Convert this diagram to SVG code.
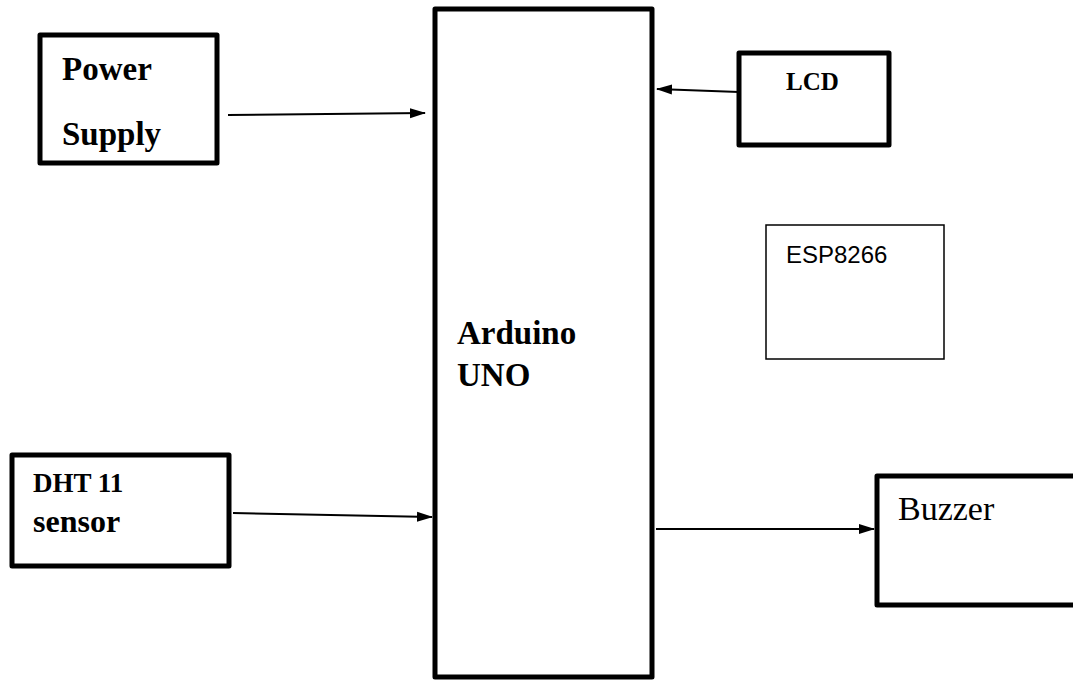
<svg xmlns="http://www.w3.org/2000/svg" width="1073" height="681" viewBox="0 0 1073 681">
<style>
.thick{fill:#fff;stroke:#000;stroke-width:5;stroke-linejoin:round}
.thin{fill:#fff;stroke:#000;stroke-width:1.5}
.b{font-family:"Liberation Serif",serif;font-weight:bold;fill:#000}
.r{font-family:"Liberation Serif",serif;fill:#000}
.s{font-family:"Liberation Sans",sans-serif;fill:#000}
.c{stroke:#000;stroke-width:2;fill:none;marker-end:url(#ah)}
</style>
<defs>
<marker id="ah" markerWidth="16" markerHeight="12" refX="15" refY="6" orient="auto" markerUnits="userSpaceOnUse">
<path d="M0,1 L16,6 L0,11 Z" fill="#000"/>
</marker>
</defs>
<rect width="1073" height="681" fill="#fff"/>
<g id="arduino">
<rect class="thick" x="435" y="9" width="217" height="668"/>
<text class="b" x="457" y="344" font-size="33">Arduino</text>
<text class="b" x="457" y="386" font-size="33">UNO</text>
</g>
<g id="power">
<rect class="thick" x="40" y="35" width="177" height="128"/>
<text class="b" x="62" y="80" font-size="33">Power</text>
<text class="b" x="62" y="145" font-size="33">Supply</text>
</g>
<g id="lcd">
<rect class="thick" x="739" y="53" width="150" height="92"/>
<text class="b" x="786" y="90" font-size="25">LCD</text>
</g>
<g id="esp">
<rect class="thin" x="766" y="225" width="178" height="134"/>
<text class="s" x="786" y="263" font-size="24">ESP8266</text>
</g>
<g id="dht">
<rect class="thick" x="12" y="455" width="217" height="111"/>
<text class="b" x="33" y="492" font-size="27">DHT 11</text>
<text class="b" x="33" y="532" font-size="32">sensor</text>
</g>
<g id="buzzer">
<path class="thick" d="M1080,476 L877,476 L877,605 L1080,605"/>
<text class="r" x="898" y="520" font-size="34">Buzzer</text>
</g>
<g id="connectors">
<line class="c" x1="228" y1="115" x2="425" y2="113"/>
<line class="c" x1="739" y1="92" x2="657" y2="89"/>
<line class="c" x1="233" y1="513" x2="432" y2="517"/>
<line class="c" x1="656" y1="529" x2="874" y2="529"/>
</g>
</svg>
